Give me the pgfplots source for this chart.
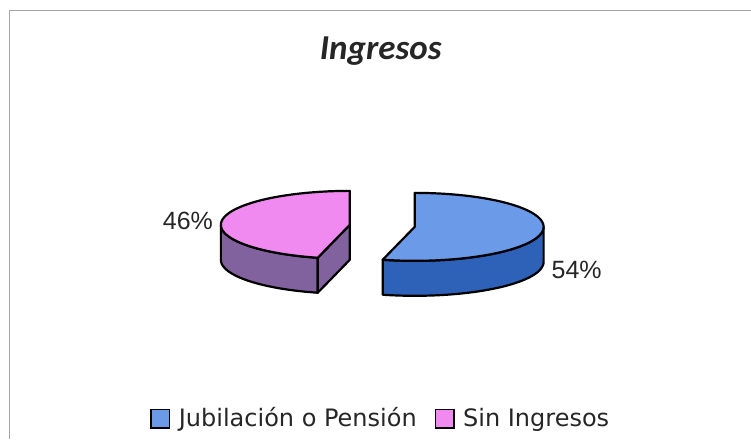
\documentclass[border=0pt]{standalone}
\usepackage{pgfplots}
\pgfplotsset{compat=1.18}
\usepackage{fontspec}
\setmainfont{Liberation Sans}
\newfontfamily\titlefont{Carlito}
\newfontfamily\legfont{DejaVu Sans}
\definecolor{btop}{HTML}{6A9AE8}
\definecolor{bside}{HTML}{2E62B8}
\definecolor{ptop}{HTML}{F08AF0}
\definecolor{pside}{HTML}{82629E}
% data (percent)
\def\valJ{54}
\def\valS{46}
\begin{document}
\begin{tikzpicture}
\pgfmathsetmacro{\bA}{90-3.6*\valJ}
\pgfmathsetmacro{\pB}{90+3.6*\valS}
% geometry (pixel units)
\def\bcx{415}\def\bcy{227}
\def\pcx{350}\def\pcy{225}
\def\rx{129}\def\ry{34}\def\dep{35}
\begin{axis}[
  width=375.5pt, height=219.5pt, scale only axis,
  xmin=0, xmax=751, ymin=0, ymax=439, y dir=reverse,
  hide axis, enlargelimits=false, clip=false,
  declare function={
    tang(\t,\a,\b)=\a+(\b-\a)*min(\t,100)/100;
    trad(\t)=(\t<=100);
    wang(\t,\a,\b)=\a+(\b-\a)*ifthenelse(\t<=100,\t/100,1-(\t-101)/100);
    wdep(\t)=(\t>100);
    frad(\t)=(\t>0.5)*(\t<2.5);
    fdep(\t)=(\t>1.5);
  },
  legend columns=2,
  legend image code/.code={\draw[#1,line width=0.9pt] (0pt,-4.6pt) rectangle (9.2pt,4.6pt);},
  legend style={at={(axis cs:382,419)}, anchor=center, draw=none, fill=none,
    font=\legfont\fontsize{12}{14}\selectfont, text=black!85,
    /tikz/every odd column/.append style={column sep=2.2pt},
    /tikz/every even column/.append style={column sep=7pt},
    inner sep=0pt},
]
% background and frame
\addplot[draw=none, fill=white, forget plot] coordinates {(0,0) (751,0) (751,439) (0,439)} -- cycle;
\addplot[color=black!35, line width=0.5pt, forget plot] coordinates {(10,439) (10,11) (751,11)};

% ---- blue slice (Jubilacion o Pension) ----
\addplot[fill=bside, draw=black, line width=1.1pt, line join=round, forget plot,
  variable=\t, samples at={0,2,...,100,101,103,...,201}]
  ({\bcx+\rx*cos(wang(\t,\bA,0))}, {\bcy-\ry*sin(wang(\t,\bA,0))+\dep*wdep(\t)}) -- cycle;
\addplot[fill=btop, draw=black, line width=1.1pt, line join=round, forget plot,
  variable=\t, samples at={0,2,...,100,102}]
  ({\bcx+trad(\t)*\rx*cos(tang(\t,\bA,90))}, {\bcy-trad(\t)*\ry*sin(tang(\t,\bA,90))}) -- cycle;

% ---- pink slice (Sin Ingresos) ----
\addplot[fill=pside, draw=black, line width=1.1pt, line join=round, forget plot,
  variable=\t, samples at={0,2,...,100,101,103,...,201}]
  ({\pcx+\rx*cos(wang(\t,180,\pB))}, {\pcy-\ry*sin(wang(\t,180,\pB))+\dep*wdep(\t)}) -- cycle;
\addplot[fill=pside, draw=black, line width=1.1pt, line join=round, forget plot,
  variable=\t, samples at={0,1,2,3}]
  ({\pcx+frad(\t)*\rx*cos(\pB)}, {\pcy-frad(\t)*\ry*sin(\pB)+\dep*fdep(\t)}) -- cycle;
\addplot[fill=ptop, draw=black, line width=1.1pt, line join=round, forget plot,
  variable=\t, samples at={0,2,...,100,102}]
  ({\pcx+trad(\t)*\rx*cos(tang(\t,90,\pB))}, {\pcy-trad(\t)*\ry*sin(tang(\t,90,\pB))}) -- cycle;

% legend
\addlegendimage{fill=btop, draw=black}
\addlegendentry{Jubilación o Pensión}
\addlegendimage{fill=ptop, draw=black}
\addlegendentry{Sin Ingresos}

% labels
\node[anchor=base, font=\fontsize{12.5}{15}\selectfont, text=black!85] at (axis cs:188,230) {46\%};
\node[anchor=base, font=\fontsize{12.5}{15}\selectfont, text=black!85] at (axis cs:577,279) {54\%};
\node[anchor=base, font=\titlefont\bfseries\itshape\fontsize{17.5}{20}\selectfont, text=black!85] at (axis cs:381,60) {Ingresos};
\end{axis}
\end{tikzpicture}
\end{document}
